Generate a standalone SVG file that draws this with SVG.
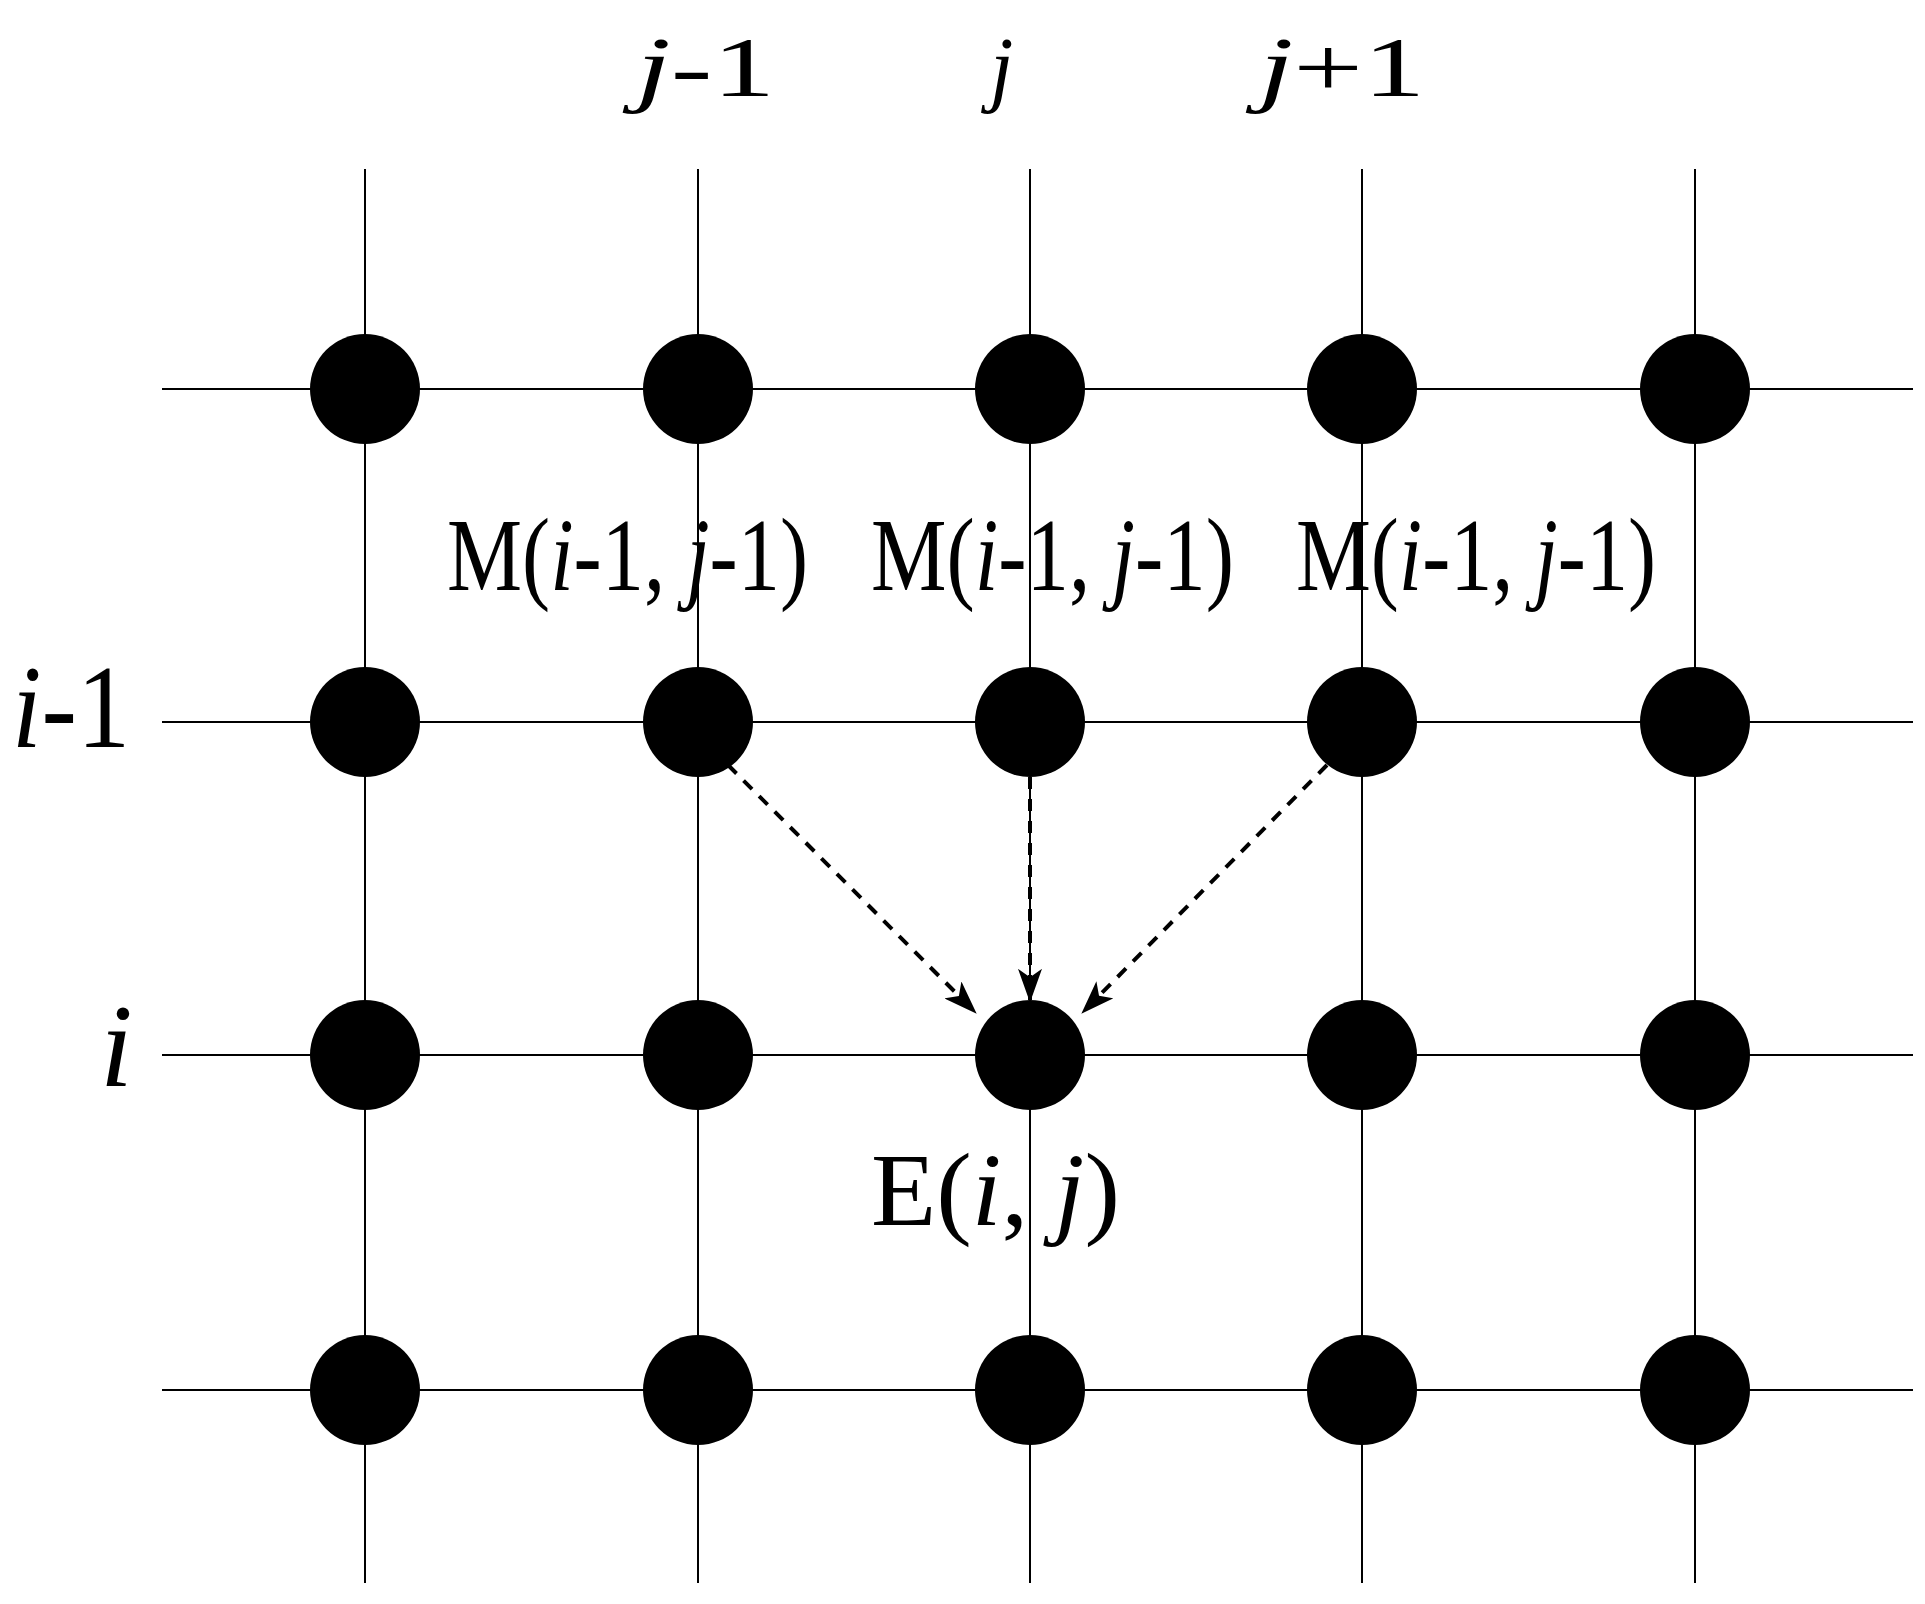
<svg xmlns="http://www.w3.org/2000/svg" width="1925" height="1604" viewBox="0 0 1925 1604">
<style>
.g{stroke:#000;stroke-width:2;fill:none}
.n{fill:#000}
text{font-family:"Liberation Serif","Times New Roman",serif;fill:#000}
.it{font-style:italic}
.c{stroke:#000;stroke-width:4;fill:none;stroke-dasharray:12 10}
</style>
<defs>
<marker id="ah" viewBox="0 0 28 20" refX="26" refY="10" markerWidth="34" markerHeight="24" markerUnits="userSpaceOnUse" orient="auto">
<path d="M0,0 L28,10 L0,20 L7,10 Z" fill="#000"/>
</marker>
</defs>
<g id="grid">
<line class="g" x1="365" y1="169" x2="365" y2="1583"/>
<line class="g" x1="698" y1="169" x2="698" y2="1583"/>
<line class="g" x1="1030" y1="169" x2="1030" y2="1583"/>
<line class="g" x1="1362" y1="169" x2="1362" y2="1583"/>
<line class="g" x1="1695" y1="169" x2="1695" y2="1583"/>
<line class="g" x1="162" y1="389" x2="1913" y2="389"/>
<line class="g" x1="162" y1="722" x2="1913" y2="722"/>
<line class="g" x1="162" y1="1055" x2="1913" y2="1055"/>
<line class="g" x1="162" y1="1390" x2="1913" y2="1390"/>
</g>
<g id="nodes">
<circle class="n" cx="365" cy="389" r="55"/><circle class="n" cx="698" cy="389" r="55"/><circle class="n" cx="1030" cy="389" r="55"/><circle class="n" cx="1362" cy="389" r="55"/><circle class="n" cx="1695" cy="389" r="55"/>
<circle class="n" cx="365" cy="722" r="55"/><circle class="n" cx="698" cy="722" r="55"/><circle class="n" cx="1030" cy="722" r="55"/><circle class="n" cx="1362" cy="722" r="55"/><circle class="n" cx="1695" cy="722" r="55"/>
<circle class="n" cx="365" cy="1055" r="55"/><circle class="n" cx="698" cy="1055" r="55"/><circle id="E" class="n" cx="1030" cy="1055" r="55"/><circle class="n" cx="1362" cy="1055" r="55"/><circle class="n" cx="1695" cy="1055" r="55"/>
<circle class="n" cx="365" cy="1390" r="55"/><circle class="n" cx="698" cy="1390" r="55"/><circle class="n" cx="1030" cy="1390" r="55"/><circle class="n" cx="1362" cy="1390" r="55"/><circle class="n" cx="1695" cy="1390" r="55"/>
</g>
<g id="connectors">
<line class="c" x1="728" y1="765" x2="975" y2="1012" marker-end="url(#ah)"/>
<line class="c" x1="1030" y1="777" x2="1030" y2="1000" marker-end="url(#ah)"/>
<line class="c" x1="1327" y1="765" x2="1083" y2="1012" marker-end="url(#ah)"/>
</g>
<g id="labels">
<text x="636" y="96" font-size="84" textLength="139" lengthAdjust="spacingAndGlyphs"><tspan class="it">j</tspan>-1</text>
<text x="990" y="96" font-size="84" class="it">j</text>
<text x="1259" y="96" font-size="84" textLength="166" lengthAdjust="spacingAndGlyphs"><tspan class="it">j</tspan>+1</text>
<text x="12" y="747" font-size="118" textLength="118" lengthAdjust="spacingAndGlyphs"><tspan class="it">i</tspan>-1</text>
<text x="100" y="1086" font-size="118" class="it">i</text>
<text x="447" y="590" font-size="104" textLength="361" lengthAdjust="spacingAndGlyphs">M(<tspan class="it">i</tspan>-1, <tspan class="it">j</tspan>-1)</text>
<text x="871" y="590" font-size="104" textLength="363" lengthAdjust="spacingAndGlyphs">M(<tspan class="it">i</tspan>-1, <tspan class="it">j</tspan>-1)</text>
<text x="1296" y="590" font-size="104" textLength="360" lengthAdjust="spacingAndGlyphs">M(<tspan class="it">i</tspan>-1, <tspan class="it">j</tspan>-1)</text>
<text x="871" y="1225" font-size="104" textLength="249" lengthAdjust="spacingAndGlyphs">E(<tspan class="it">i</tspan>, <tspan class="it">j</tspan>)</text>
</g>
</svg>
